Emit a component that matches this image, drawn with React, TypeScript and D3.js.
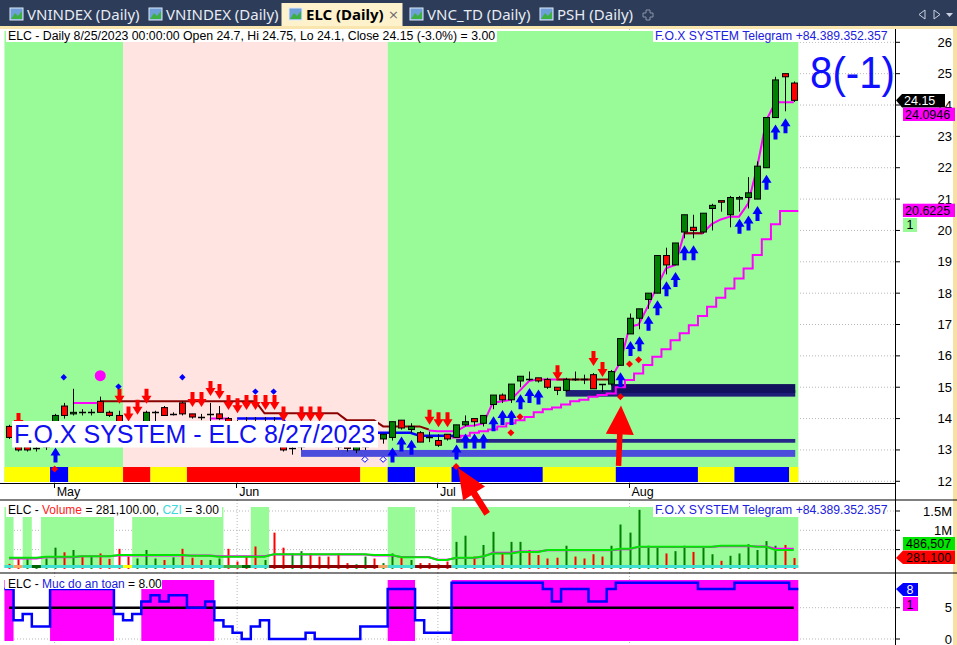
import React from "react";
import * as d3 from "d3";

// ---------- DATA (ELC daily, 24 Apr 2023 – 25 Aug 2023, 87 sessions) ----------
const opens = [
  13.75, 13.1, 13.1, 13.05, 13.1, 13.5, 14.4, 14.15, 14.2, 14.2,
  14.55, 14.2, 14.1, 13.6, 13.5, 13.9, 14.2, 14.35, 14.15, 14.5,
  14.15, 14.05, 14.15, 14.15, 14.0, 13.8, 13.7, 13.9, 13.65, 13.85,
  13.1, 13.05, 13.1, 13.3, 13.2, 13.3, 13.2, 13.1, 13.0, 13.1,
  13.25, 13.35, 13.4, 13.95, 13.65, 13.55, 13.4, 13.3, 13.5, 13.4,
  13.8, 14.0, 13.85, 14.45, 14.75, 14.6, 15.2, 15.25, 15.3, 15.25,
  15.0, 14.9, 15.25, 15.25, 15.4, 15.1, 15.1, 15.7, 16.7, 17.2,
  17.8, 18.0, 19.2, 18.9, 19.95, 20.1, 19.95, 20.7, 20.95, 20.5,
  21.0, 21.05, 21.0, 22.0, 23.6, 25.0, 24.7,
];
const highs = [
  13.8, 13.48, 13.3, 13.4, 13.6, 14.15, 14.5, 14.95, 14.3, 14.3,
  14.7, 14.25, 14.25, 13.68, 13.9, 14.25, 14.25, 14.4, 14.2, 14.55,
  14.15, 14.15, 14.5, 14.4, 14.05, 13.95, 14.05, 14.05, 14.05, 14.05,
  13.68, 13.3, 13.68, 13.68, 13.68, 13.5, 13.4, 13.2, 13.15, 13.3,
  13.4, 13.5, 13.9, 13.95, 13.85, 13.6, 13.58, 13.5, 13.5, 13.8,
  14.1, 14.0, 14.1, 14.75, 14.8, 15.1, 15.35, 15.5, 15.3, 15.3,
  15.0, 15.3, 15.5, 15.4, 15.45, 15.1, 15.55, 16.55, 17.35, 17.5,
  18.0, 19.2, 19.45, 19.6, 20.5, 20.5, 20.55, 20.85, 20.95, 21.1,
  21.1, 21.7, 22.2, 23.6, 24.9, 25.0, 24.75,
];
const lows = [
  13.35, 12.95, 12.95, 12.95, 13.0, 13.3, 14.0, 14.1, 14.1, 14.1,
  14.2, 14.05, 13.6, 13.3, 13.4, 13.85, 13.9, 14.1, 14.1, 14.1,
  14.0, 13.95, 13.9, 13.95, 13.7, 13.6, 13.5, 13.6, 13.5, 13.5,
  12.95, 12.85, 13.0, 13.1, 13.1, 13.1, 13.0, 12.95, 12.9, 13.0,
  13.15, 13.2, 13.3, 13.65, 13.55, 13.25, 13.25, 13.1, 13.3, 13.4,
  13.75, 13.75, 13.75, 14.3, 14.5, 14.5, 15.0, 15.2, 15.15, 14.95,
  14.75, 14.85, 15.2, 15.1, 14.95, 14.85, 15.05, 15.7, 16.7, 16.85,
  17.5, 18.0, 18.6, 18.9, 19.75, 19.75, 19.9, 20.0, 20.6, 20.1,
  20.6, 20.7, 21.0, 22.0, 23.6, 23.8, 24.1,
];
const closes = [
  13.4, 13.0, 13.0, 13.05, 13.5, 14.1, 14.1, 14.2, 14.2, 14.2,
  14.2, 14.1, 13.9, 13.4, 13.8, 14.2, 14.2, 14.1, 14.15, 14.15,
  14.05, 14.05, 14.15, 14.0, 13.8, 13.7, 13.9, 13.65, 13.9, 13.55,
  13.0, 13.05, 13.3, 13.2, 13.3, 13.2, 13.1, 13.05, 13.1, 13.25,
  13.35, 13.5, 13.9, 13.7, 13.75, 13.25, 13.4, 13.15, 13.35, 13.8,
  13.9, 13.9, 14.1, 14.75, 14.6, 15.1, 15.35, 15.25, 15.2, 15.0,
  14.9, 15.25, 15.25, 15.25, 14.95, 15.1, 15.5, 16.55, 17.2, 17.5,
  18.0, 19.2, 18.9, 19.6, 20.5, 20.0, 20.55, 20.8, 20.9, 21.05,
  21.05, 21.2, 22.05, 23.6, 24.8, 24.9, 24.15,
];
const volumes = [
  130000, 250000, 250000, 100000, 270000, 550000, 430000, 490000, 330000, 320000,
  400000, 260000, 520000, 320000, 270000, 490000, 270000, 230000, 300000, 520000,
  290000, 230000, 230000, 270000, 520000, 190000, 320000, 580000, 230000, 940000,
  550000, 400000, 460000, 400000, 320000, 320000, 400000, 150000, 120000, 320000,
  270000, 150000, 400000, 320000, 230000, 150000, 150000, 120000, 190000, 700000,
  860000, 320000, 620000, 960000, 430000, 700000, 700000, 490000, 360000, 270000,
  290000, 600000, 320000, 270000, 380000, 320000, 600000, 1150000, 940000, 1530000,
  600000, 580000, 400000, 460000, 600000, 440000, 580000, 380000, 210000, 340000,
  400000, 640000, 490000, 720000, 600000, 620000, 281100,
];
const volumeUp = [
  0, 0, 1, 1, 1, 1, 0, 1, 0, 1,
  0, 0, 0, 0, 1, 1, 1, 0, 1, 0,
  0, 0, 1, 1, 0, 0, 0, 0, 1, 0,
  0, 1, 1, 0, 0, 0, 0, 0, 1, 1,
  0, 1, 1, 0, 1, 0, 0, 0, 0, 1,
  1, 0, 1, 1, 0, 1, 1, 0, 0, 0,
  0, 1, 0, 0, 0, 0, 1, 1, 1, 1,
  1, 1, 0, 1, 1, 0, 1, 1, 0, 1,
  1, 1, 1, 1, 1, 0, 0,
];
const volumeMaGreen = [
  290, 290, 290, 290, 316, 316, 316, 316, 330, 330,
  330, 330, 360, 360, 360, 360, 360, 360, 360, 360,
  340, 340, 340, 316, 316, 316, 316, 316, 316, 380,
  380, 380, 380, 380, 380, 380, 380, 380, 380, 380,
  360, 360, 360, 300, 300, 300, 300, 230, 230, 290,
  290, 290, 330, 400, 400, 400, 440, 440, 440, 490,
  490, 490, 490, 490, 490, 490, 490, 520, 520, 575,
  575, 575, 575, 575, 575, 575, 575, 575, 600, 600,
  600, 600, 575, 575, 487, 487, 487,
].map((v) => v * 1000);
const volumeMaMagenta = [
  270, 270, 270, 270, 300, 300, 300, 300, 330, 330,
  330, 330, 350, 350, 350, 350, 350, 350, 350, 350,
  350, 350, 350, 330, 330, 330, 330, 330, 330, 370,
  370, 370, 370, 370, 370, 370, 370, 370, 370, 370,
  350, 350, 350, 310, 310, 310, 310, 240, 240, 280,
  280, 280, 320, 420, 420, 420, 450, 450, 450, 480,
  480, 480, 480, 480, 480, 480, 480, 510, 510, 570,
  570, 570, 570, 570, 570, 570, 570, 570, 590, 590,
  590, 590, 580, 580, 520, 520, 520,
].map((v) => v * 1000);
const safetyLevel = [
  8, 3, 4, 2, 2, 8, 8, 8, 8, 8,
  8, 8, 4, 3, 4, 6, 7, 6, 7, 7,
  5, 5, 6, 3, 2, 1, 0, 2, 3, 0,
  0, 0, 0, 1, 0, 0, 0, 0, 0, 2,
  2, 2, 8, 8, 8, 3, 1, 1, 1, 9,
  9, 9, 9, 9, 9, 9, 9, 9, 9, 8,
  6, 8, 8, 8, 6, 6, 8, 9, 9, 9,
  9, 9, 9, 9, 9, 9, 8, 8, 8, 8,
  9, 9, 9, 9, 9, 9, 8,
];
const N = null;
const trailPink = [
  N, N, N, N, N, N, N, 14.5, 14.5, 14.5,
  14.5, N, N, N, N, N, N, N, N, N,
  N, N, 14.0, 14.0, 14.0, N, N, N, N, N,
  N, N, N, N, N, N, N, N, N, N,
  N, N, N, N, N, N, 13.62, 13.6, 13.6, 13.6,
  13.76, 13.78, 13.85, 14.5, 14.55, 14.6, 14.9, 15.2, 15.25, 15.25,
  15.25, 15.25, N, N, N, N, 15.3, 15.8, 16.93, 17.0,
  17.57, 18.2, 18.79, 18.9, 19.91, 19.91, 19.91, 20.2, 20.35, 20.44,
  20.44, 20.86, 22.03, 23.52, 24.09, 24.09, 24.09,
];
const trailMaroon = [
  N, N, N, N, N, N, N, N, N, N,
  14.55, 14.55, 14.55, 14.55, 14.55, 14.55, 14.55, 14.55, 14.55, 14.55,
  14.55, 14.55, 14.55, 14.55, 14.55, 14.55, 14.55, 14.55, 14.17, 14.17,
  14.17, 14.17, 14.17, 14.17, 14.17, 14.17, 14.17, 13.95, 13.95, 13.95,
  13.95, 13.75, 13.75, 13.75, 13.75, 13.75, 13.65, N, N, N,
  N, N, N, N, N, N, N, N, N, N,
  15.25, 15.25, 15.25, 15.25, 15.25, 15.25, 15.25, N, N, N,
  N, N, N, N, 19.91, 19.91, 19.91, N, N, N,
  N, N, N, N, N, N, N,
];
const trailBlue = [
  N, N, N, N, N, N, N, N, N, N,
  N, N, N, N, N, N, N, N, N, N,
  N, N, N, N, N, 14.0, 14.0, 14.0, 14.0, 14.0,
  14.0, 13.55, 13.55, 13.55, 13.55, 13.55, 13.55, 13.55, 13.55, 13.55,
  13.55, 13.55, 13.55, 13.55, 13.55, 13.45, 13.45, 13.45, 13.45, 13.45,
  N, N, N, N, N, N, N, N, N, N,
  N, N, N, N, N, N, N, N, N, N,
  N, N, N, N, N, N, N, N, N, N,
  N, N, N, N, N, N, N,
];
const stopStep = [
  N, N, N, N, N, N, N, N, N, N,
  N, N, N, N, N, N, N, N, N, N,
  N, N, N, N, N, N, N, N, N, N,
  N, N, N, N, N, N, N, N, N, N,
  N, N, N, N, N, N, N, N, N, 13.4,
  13.45, 13.55, 13.6, 13.65, 13.75, 13.85, 13.95, 14.05, 14.2, 14.3,
  14.35, 14.45, 14.55, 14.6, 14.7, 14.75, 14.8, 15.0, 15.23, 15.44,
  15.71, 15.97, 16.21, 16.5, 16.72, 16.98, 17.27, 17.57, 17.85, 18.15,
  18.47, 18.79, 19.22, 19.72, 20.2, 20.62, 20.62,
];
// run-length states per bar
const trendRuns: [string, number][] = [["up", 13], ["down", 29], ["up", 45]];
const signalRuns: [string, number][] = [
  ["Y", 5], ["B", 2], ["Y", 6], ["R", 3], ["Y", 4], ["R", 19], ["Y", 3], ["B", 3],
  ["Y", 4], ["B", 10], ["Y", 8], ["B", 9], ["Y", 4], ["B", 6], ["Y", 1],
];
const volumeZoneRuns: [number, number][] = [
  [1, 1], [0, 1], [1, 1], [0, 1], [1, 8], [0, 2], [1, 10], [0, 3], [1, 2], [0, 13], [1, 3], [0, 4], [1, 38],
];
const safetyZoneRuns: [number, number][] = [
  [1, 1], [0, 4], [1, 7], [0, 3], [1, 8], [0, 19], [1, 3], [0, 4], [1, 38],
];
const cziRuns: [string, number][] = [
  ["C", 1], ["O", 1], ["C", 1], ["DG", 1], ["C", 9], ["Y", 1], ["C", 10], ["G", 2], ["DG", 1],
  ["C", 2], ["DR", 12], ["O", 1], ["C", 3], ["DR", 4], ["C", 38],
];
const buySignals = [5, 42, 43, 44, 49, 50, 51, 52, 53, 54, 55, 56, 57, 58, 67, 68, 69, 70, 71, 72, 73, 74, 75, 80, 81, 82, 83, 84, 85];
const sellSignals = [1, 12, 13, 14, 15, 20, 21, 22, 23, 24, 25, 26, 27, 28, 29, 30, 32, 33, 34, 46, 47, 48, 60, 64, 65];
const blueDots: [number, number][] = [[6, 15.32], [12, 15.02], [19, 15.32], [27, 14.86], [29, 14.86]];
const redDots: [number, number][] = [[5, 12.39], [49, 12.47], [55, 13.55], [56, 14.06], [67, 14.7], [68, 15.74], [69, 15.88]];
const hollowDots: [number, number][] = [[39, 12.7], [41, 12.7]];
const bigDot: [number, number] = [10, 15.37];
// support zones: [start bar, low, high, kind]
const zones: [number, number, number, string][] = [
  [32, 12.78, 13.0, "light"],
  [49, 13.23, 13.35, "thin"],
  [61, 14.7, 14.91, "mid"],
  [66, 14.82, 15.1, "dark"],
];
// annotation arrows: [fromBar, fromPrice, toBar, toPrice]
const pointers: [number, number, number, number][] = [
  [66.8, 12.49, 67.07, 14.42],
  [52.4, 10.96, 49.2, 12.42],
];
const monthTicks: [number, string][] = [[5, "May"], [25, "Jun"], [47, "Jul"], [68, "Aug"]];
const priceTicks = [12, 13, 14, 15, 16, 17, 18, 19, 20, 21, 22, 23, 24, 25, 26];
const tabs = ["VNINDEX (Daily)", "VNINDEX (Daily)", "ELC (Daily)", "VNC_TD (Daily)", "PSH (Daily)"];

function runSpans<T>(runs: [T, number][]) {
  const spans: { v: T; a: number; b: number }[] = [];
  let s = 0;
  runs.forEach(([v, n]) => { spans.push({ v, a: s, b: s + n - 1 }); s += n; });
  return spans;
}

const FONT = "'Liberation Sans', Arial, sans-serif";

export default function App() {
  const nBars = closes.length;
  const x = d3.scaleLinear().domain([0, nBars - 1]).range([9, 793.75]);
  const half = (x(1) - x(0)) / 2;
  const yP = d3.scaleLinear().domain([12, 26]).range([481.3, 42.3]);
  const yV = d3.scaleLinear().domain([0, 1500000]).range([568.9, 511]);
  const yS = d3.scaleLinear().domain([0, 5]).range([639, 607.7]);

  const trendColor: Record<string, string> = { up: "#98fb98", down: "#ffe4e1" };
  const signalColor: Record<string, string> = { Y: "#ffff00", B: "#0000ff", R: "#ff0000" };
  const cziColor: Record<string, string> = { C: "#40e0d0", O: "#f4a460", DG: "#006400", Y: "#ffff00", G: "#3cb043", DR: "#8b0000" };
  const zoneColor: Record<string, string> = { light: "#4b4bdc", thin: "#26268a", mid: "#1e1e78", dark: "#11115e" };

  const lineGen = (ys: (v: number) => number) =>
    d3.line<[number, number | null]>()
      .defined((d) => d[1] != null)
      .x((d) => x(d[0]))
      .y((d) => ys(d[1] as number));
  const series = (arr: (number | null)[]) => arr.map((v, i) => [i, v] as [number, number | null]);

  const stepPath = (arr: (number | null)[], ys: (v: number) => number) => {
    const pts: [number, number | null][] = [];
    arr.forEach((v, i) => { pts.push([x(i) - half, v]); pts.push([x(i) + half, v]); });
    return d3.line<[number, number | null]>().defined((d) => d[1] != null).x((d) => d[0]).y((d) => ys(d[1] as number))(pts) || "";
  };

  const upArrow = (cx: number, top: number) =>
    `M${cx},${top} L${cx + 5},${top + 8} L${cx + 2},${top + 8} L${cx + 2},${top + 15} L${cx - 2},${top + 15} L${cx - 2},${top + 8} L${cx - 5},${top + 8} Z`;
  const downArrow = (cx: number, bot: number) =>
    `M${cx},${bot} L${cx + 5},${bot - 8} L${cx + 2},${bot - 8} L${cx + 2},${bot - 15} L${cx - 2},${bot - 15} L${cx - 2},${bot - 8} L${cx - 5},${bot - 8} Z`;
  const diamond = (cx: number, cy: number, r: number) => `M${cx},${cy - r} L${cx + r},${cy} L${cx},${cy + r} L${cx - r},${cy} Z`;

  const pointerPath = (fx: number, fy: number, tx: number, ty: number, headLen: number, headHalf: number, shaftHalf: number) => {
    const dx = fx - tx, dy = fy - ty;
    const len = Math.hypot(dx, dy);
    const ux = dx / len, uy = dy / len;
    const px = -uy, py = ux;
    const bx = tx + ux * headLen, by = ty + uy * headLen;
    const p = [
      [tx, ty],
      [bx + px * headHalf, by + py * headHalf],
      [bx + px * shaftHalf, by + py * shaftHalf],
      [fx + px * shaftHalf, fy + py * shaftHalf],
      [fx - px * shaftHalf, fy - py * shaftHalf],
      [bx - px * shaftHalf, by - py * shaftHalf],
      [bx - px * headHalf, by - py * headHalf],
    ];
    return "M" + p.map((q) => q[0].toFixed(1) + "," + q[1].toFixed(1)).join("L") + "Z";
  };

  const trendSpans = runSpans(trendRuns);
  const signalSpans = runSpans(signalRuns);
  const volSpans = runSpans(volumeZoneRuns);
  const safeSpans = runSpans(safetyZoneRuns);
  const cziSpans = runSpans(cziRuns);
  const dotted = { stroke: "#b8b8b8", strokeDasharray: "1,2", strokeWidth: 1 };

  const plotR = 895.5;
  const tabX = [8, 147, 287, 408, 538];

  return (
    <svg width={957} height={645} style={{ position: "fixed", left: 0, top: 0, background: "#ffffff" }} fontFamily={FONT}>
      {/* tab bar */}
      <rect x={0} y={0} width={957} height={27} fill="#2d3c58" />
      <rect x={281.5} y={3} width={121} height={25} fill="#fdf2cc" />
      <rect x={0} y={26} width={957} height={3} fill="#f9e6ae" />
      {tabs.map((t, k) => (
        <g key={"tab" + k}>
          <rect x={tabX[k] + 2} y={8} width={13} height={12} fill="#6f9fd8" stroke="#dfe9f7" strokeWidth={1} />
          <path d={`M${tabX[k] + 3},19 L${tabX[k] + 7},13 L${tabX[k] + 10},16 L${tabX[k] + 14},11 L${tabX[k] + 14},19 Z`} fill="#3cb043" />
          <text x={tabX[k] + 19} y={20} fontFamily="'Noto Sans', sans-serif" fontSize={15}
            fontWeight={k === 2 ? 700 : 400} fill={k === 2 ? "#000000" : "#e6ebf4"}>{t}</text>
        </g>
      ))}
      <text x={388} y={19} fontSize={13} fill="#6a6a6a" fontFamily="'DejaVu Sans', sans-serif">×</text>
      <path d="M646,10 h4 v3 h3 v4 h-3 v3 h-4 v-3 h-3 v-4 h3 z" fill="none" stroke="#8a93a8" strokeWidth={1} />
      <path d="M925,10 L919,14.5 L925,19 Z" fill="none" stroke="#c9d1e2" />
      <path d="M934,10 L940,14.5 L934,19 Z" fill="none" stroke="#c9d1e2" />
      <path d="M946,13 L953,13 L949.5,17 Z" fill="#c9d1e2" />
      <rect x={953} y={26} width={4} height={619} fill="#f7dfa6" />

      {/* grid (main) */}
      {priceTicks.map((p) => (
        <line key={"g" + p} x1={5} x2={plotR} y1={yP(p)} y2={yP(p)} style={dotted} />
      ))}
      {monthTicks.map(([i]) => (
        <g key={"vg" + i}>
          <line x1={x(i)} x2={x(i)} y1={29} y2={483} style={dotted} />
          <line x1={x(i)} x2={x(i)} y1={500} y2={573} style={dotted} />
          <line x1={x(i)} x2={x(i)} y1={573} y2={645} style={dotted} />
        </g>
      ))}

      {/* main background bands */}
      {trendSpans.map((s, k) => (
        <rect key={"tb" + k} x={x(s.a) - half} y={31} width={x(s.b) - x(s.a) + 2 * half} height={451} fill={trendColor[s.v]} />
      ))}
      {zones.map(([a, lo, hi, kind], k) => (
        <rect key={"z" + k} x={x(a)} y={yP(hi)} width={x(nBars - 1) + 1.5 - x(a)} height={yP(lo) - yP(hi)} fill={zoneColor[kind]} />
      ))}
      {signalSpans.map((s, k) => (
        <rect key={"ss" + k} x={x(s.a) - half} y={467} width={x(s.b) - x(s.a) + 2 * half} height={15} fill={signalColor[s.v]} />
      ))}

      {/* trailing lines */}
      <path d={stepPath(stopStep, yP)} fill="none" stroke="#ff00ff" strokeWidth={2} />
      <path d={lineGen(yP)(series(trailBlue)) || ""} fill="none" stroke="#0000ff" strokeWidth={2.5} />
      <path d={lineGen(yP)(series(trailPink)) || ""} fill="none" stroke="#ff00ff" strokeWidth={2} />
      <path d={lineGen(yP)(series(trailMaroon)) || ""} fill="none" stroke="#8b0000" strokeWidth={2} />

      {/* candles */}
      {closes.map((c, i) => {
        const cx = Math.round(x(i));
        const o = opens[i];
        const yo = yP(o), yc = yP(c);
        const top = Math.min(yo, yc), h = Math.abs(yo - yc);
        const up = c >= o;
        return (
          <g key={"c" + i}>
            <line x1={cx + 0.5} x2={cx + 0.5} y1={yP(highs[i])} y2={yP(lows[i])} stroke="#000" strokeWidth={1} />
            {h < 1.5 ? (
              <line x1={cx - 3} x2={cx + 4} y1={Math.round(yo) + 0.5} y2={Math.round(yo) + 0.5} stroke="#000" strokeWidth={1.5} />
            ) : (
              <rect x={cx - 2.5} y={top} width={6} height={h} fill={up ? "#008000" : "#ff0000"} stroke="#000" strokeWidth={1} />
            )}
          </g>
        );
      })}

      {/* signals */}
      {buySignals.map((i) => (
        <path key={"b" + i} d={upArrow(Math.round(x(i)) + 0.5, yP(lows[i]) + 7)} fill="#0000ff" />
      ))}
      {sellSignals.map((i) => (
        <path key={"s" + i} d={downArrow(Math.round(x(i)) + 0.5, yP(highs[i]) - 7)} fill="#ff0000" />
      ))}
      {blueDots.map(([i, p]) => <path key={"bd" + i} d={diamond(x(i), yP(p), 3.2)} fill="#0000ff" />)}
      {redDots.map(([i, p]) => <path key={"rd" + i} d={diamond(x(i), yP(p), 3.5)} fill="#ff0000" />)}
      {hollowDots.map(([i, p]) => <path key={"hd" + i} d={diamond(x(i), yP(p), 3)} fill="#ffffff" stroke="#0000ff" strokeWidth={1} />)}
      <circle cx={x(bigDot[0])} cy={yP(bigDot[1])} r={5.5} fill="#ff00ff" />

      {/* texts on main pane */}
      <rect x={12} y={421} width={366} height={26.5} fill="#ffffff" />
      <text x={14} y={443} fontSize={25} fill="#1010f0">F.O.X SYSTEM - ELC 8/27/2023</text>
      <rect x={6} y={29} width={491} height={13} fill="#ffffff" />
      <text x={8} y={40} fontSize={12.3} fill="#000">ELC - Daily 8/25/2023 00:00:00 Open 24.7, Hi 24.75, Lo 24.1, Close 24.15 (-3.0%)   = 3.00</text>
      <rect x={653} y={29} width={233} height={13} fill="#ffffff" />
      <text x={655} y={40} fontSize={12.2} fill="#2020e0">F.O.X SYSTEM Telegram +84.389.352.357</text>
      <text x={810} y={88} fontSize={44} fill="#1010ff" textLength={85} lengthAdjust="spacingAndGlyphs">8(-1)</text>

      {/* x axis */}
      <line x1={0} x2={plotR} y1={483.5} y2={483.5} stroke="#000" />
      {monthTicks.map(([i, lab]) => (
        <g key={"mt" + i}>
          <line x1={Math.round(x(i)) - 0.5} x2={Math.round(x(i)) - 0.5} y1={484} y2={488} stroke="#000" />
          <text x={x(i) + 2} y={496} fontSize={12.5} fill="#000">{lab}</text>
        </g>
      ))}

      {/* right axis (main) */}
      {priceTicks.map((p) => (
        <g key={"pt" + p}>
          <line x1={plotR} x2={900} y1={yP(p)} y2={yP(p)} stroke="#000" />
          <text x={952} y={yP(p) + 4.5} fontSize={13} textAnchor="end" fill="#000">{p}</text>
        </g>
      ))}
      <path d={`M896,${yP(24.15)} L902,94 L945,94 L945,107.5 L902,107.5 Z`} fill="#000" />
      <text x={904} y={105} fontSize={12.5} fill="#fff">24.15</text>
      <rect x={903} y={107.7} width={52} height={13.3} fill="#ff00ff" />
      <text x={905} y={119} fontSize={12.5} fill="#000">24.0946</text>
      <rect x={903} y={203.7} width={52} height={13.3} fill="#ff00ff" />
      <text x={905} y={215} fontSize={12.5} fill="#000">20.6225</text>
      <rect x={903} y={218} width={14} height={14} fill="#98fb98" />
      <text x={906.5} y={229} fontSize={12.5} fill="#000">1</text>

      {/* volume pane */}
      <line x1={0} x2={957} y1={500} y2={500} stroke="#000" />
      {[500000, 1000000, 1500000].map((v) => (
        <line key={"vgl" + v} x1={5} x2={plotR} y1={yV(v)} y2={yV(v)} style={dotted} />
      ))}
      {volSpans.filter((s) => s.v === 1).map((s, k) => (
        <rect key={"vb" + k} x={x(s.a) - half} y={507} width={x(s.b) - x(s.a) + 2 * half} height={61} fill="#98fb98" />
      ))}
      {volumes.map((v, i) => (
        <rect key={"v" + i} x={Math.round(x(i)) - 0.5} y={yV(v)} width={2} height={yV(0) - yV(v)} fill={volumeUp[i] ? "#008000" : "#ff0000"} />
      ))}
      {cziSpans.map((s, k) => (
        <rect key={"cz" + k} x={x(s.a) - half} y={565} width={x(s.b) - x(s.a) + 2 * half} height={3} fill={cziColor[s.v]} />
      ))}
      <path d={lineGen(yV)(series(volumeMaMagenta)) || ""} fill="none" stroke="#ff00ff" strokeWidth={2} />
      <path d={lineGen(yV)(series(volumeMaGreen)) || ""} fill="none" stroke="#00e600" strokeWidth={2} />
      <rect x={6} y={503} width={216} height={14} fill="#fff" />
      <text x={8} y={514} fontSize={12} fill="#000">
        ELC - <tspan fill="#ff2020">Volume</tspan> = 281,100.00, <tspan fill="#40d8d8">CZI</tspan> = 3.00
      </text>
      <rect x={653} y={503} width={233} height={14} fill="#fff" />
      <text x={655} y={514} fontSize={12.2} fill="#2020e0">F.O.X SYSTEM Telegram +84.389.352.357</text>
      {[[1000000, "1M"], [1500000, "1.5M"]].map(([v, lab]) => (
        <g key={"vt" + lab}>
          <line x1={plotR} x2={900} y1={yV(v as number)} y2={yV(v as number)} stroke="#000" />
          <text x={952} y={yV(v as number) + 4.5} fontSize={13} textAnchor="end" fill="#000">{lab}</text>
        </g>
      ))}
      <line x1={plotR} x2={900} y1={yV(500000)} y2={yV(500000)} stroke="#000" />
      <rect x={903} y={537} width={52} height={13} fill="#00e600" />
      <text x={906} y={548} fontSize={12.5} fill="#000">486,507</text>
      <path d={`M896,${yV(281100)} L903,550.5 L955,550.5 L955,564 L903,564 Z`} fill="#ff0000" />
      <text x={906} y={561.5} fontSize={12.5} fill="#000">281,100</text>

      {/* safety pane */}
      <line x1={0} x2={957} y1={573} y2={573} stroke="#000" />
      {[0, 5].map((v) => (
        <line key={"sg" + v} x1={5} x2={plotR} y1={yS(v)} y2={yS(v)} style={dotted} />
      ))}
      {safeSpans.filter((s) => s.v === 1).map((s, k) => (
        <rect key={"sb" + k} x={x(s.a) - half} y={580} width={x(s.b) - x(s.a) + 2 * half} height={61} fill="#ff00ff" />
      ))}
      <line x1={x(0)} x2={x(nBars - 1)} y1={yS(5)} y2={yS(5)} stroke="#000" strokeWidth={2.5} />
      <path d={stepPath(safetyLevel, yS)} fill="none" stroke="#0000ff" strokeWidth={2.5} />
      <rect x={5} y={578} width={157} height={11} fill="#fff" />
      <text x={8} y={587.5} fontSize={12} fill="#000">
        ELC - <tspan fill="#2020e0">Muc do an toan</tspan> = 8.00
      </text>
      {[0, 5].map((v) => (
        <g key={"st" + v}>
          <line x1={plotR} x2={900} y1={yS(v)} y2={yS(v)} stroke="#000" />
          <text x={952} y={yS(v) + 4.5} fontSize={13} textAnchor="end" fill="#000">{v}</text>
        </g>
      ))}
      <path d={`M896,${yS(8)} L903,583 L918,583 L918,596 L903,596 Z`} fill="#0000ff" />
      <text x={906.5} y={594} fontSize={12.5} fill="#fff">8</text>
      <rect x={903} y={597} width={15} height={14} fill="#ff00ff" />
      <text x={906.5} y={608.5} fontSize={12.5} fill="#000">1</text>

      {/* right axis line */}
      <line x1={plotR} x2={plotR} y1={29} y2={645} stroke="#000" />

      {/* red annotation pointers */}
      <path d={pointerPath(x(pointers[0][0]), yP(pointers[0][1]), x(pointers[0][2]), yP(pointers[0][3]), 29, 14, 2.8)} fill="#ff0000" />
      <path d={pointerPath(x(pointers[1][0]), yP(pointers[1][1]), x(pointers[1][2]), yP(pointers[1][3]), 30, 13, 3.3)} fill="#ff0000" />
    </svg>
  );
}
